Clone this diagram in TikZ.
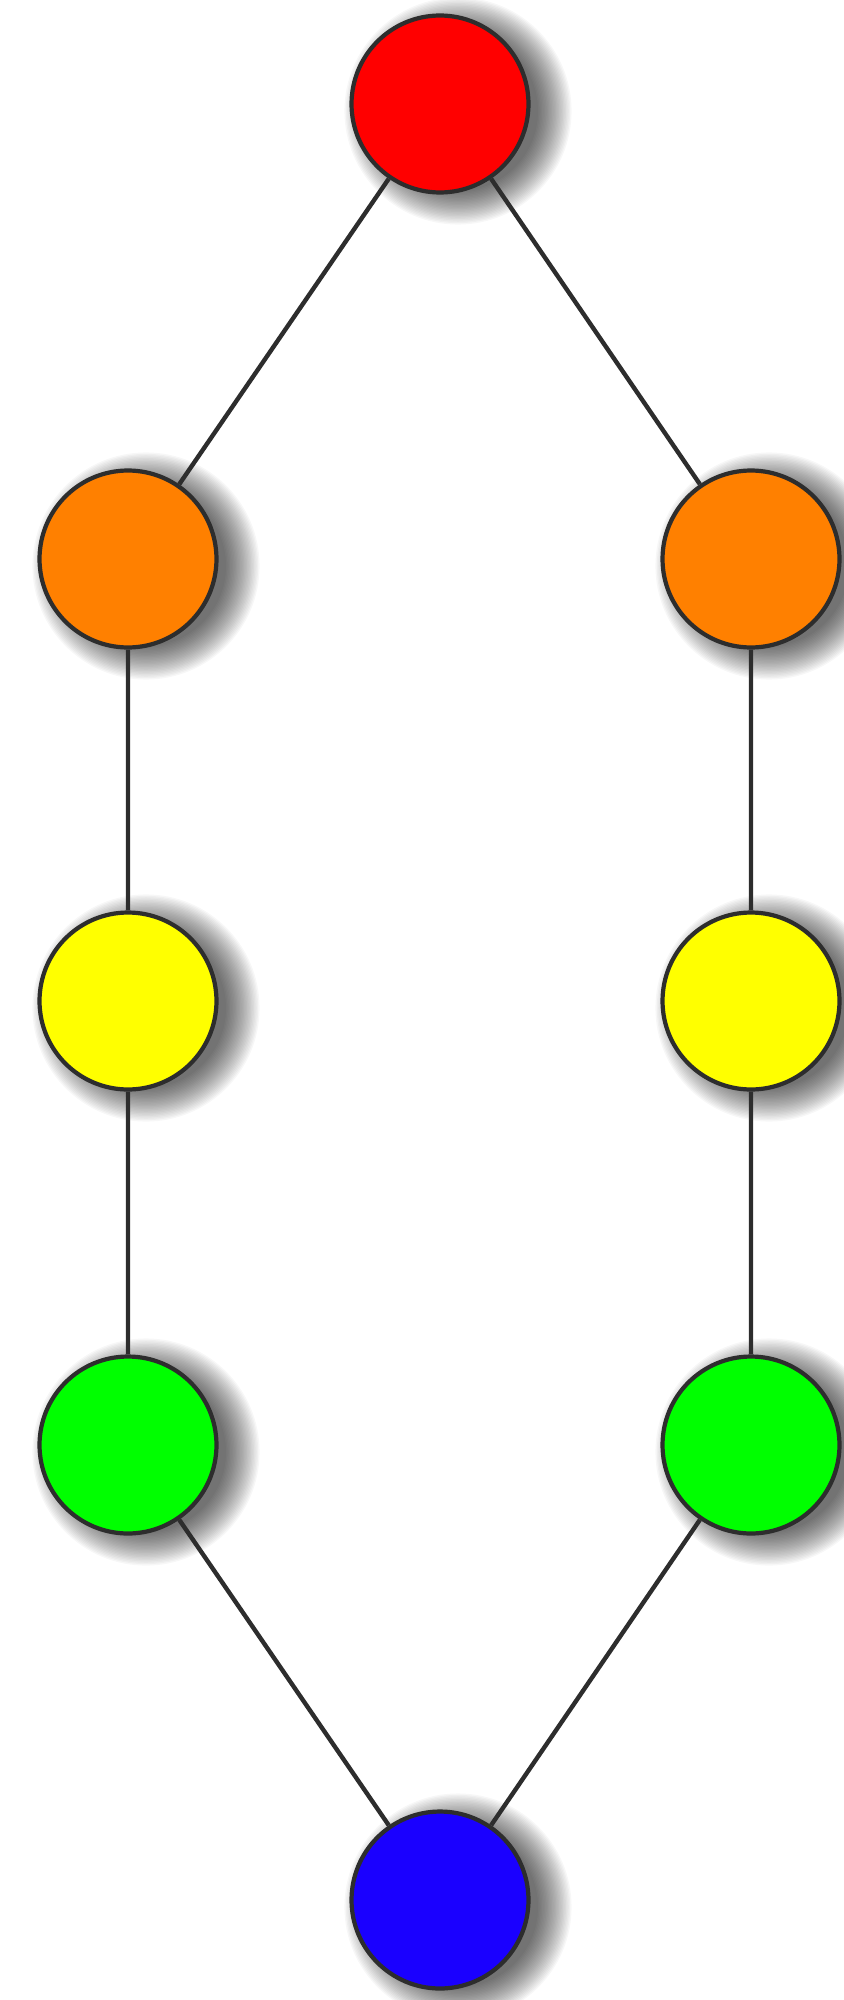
\documentclass[tikz,border=0pt]{standalone}
\usepackage{tikz}
\usetikzlibrary{backgrounds}
\definecolor{ballred}{RGB}{255,0,0}
\definecolor{ballorange}{RGB}{255,128,0}
\definecolor{ballyellow}{RGB}{255,255,0}
\definecolor{ballgreen}{RGB}{0,255,0}
\definecolor{ballblue}{RGB}{26,0,255}
\definecolor{rim}{RGB}{45,45,45}

\begin{document}
\begin{tikzpicture}[x=0.02cm,y=-0.02cm,
    ball/.style={circle,draw=rim,line width=2.4pt,inner sep=0pt,minimum size=3.54cm},
    link/.style={draw=rim,line width=2.5pt}]
    \useasboundingbox (0,0) rectangle (844,2000);

    \node[ball,fill=ballred]    (top) at (440,104) {};
    \node[ball,fill=ballorange] (o1)  at (128,559) {};
    \node[ball,fill=ballorange] (o2)  at (751,559) {};
    \node[ball,fill=ballyellow] (y1)  at (128,1001) {};
    \node[ball,fill=ballyellow] (y2)  at (751,1001) {};
    \node[ball,fill=ballgreen]  (g1)  at (128,1445) {};
    \node[ball,fill=ballgreen]  (g2)  at (751,1445) {};
    \node[ball,fill=ballblue]   (bot) at (440,1900) {};

    \begin{scope}[on background layer]
        % soft shadows
        \foreach \n in {top,o1,o2,y1,y2,g1,g2,bot}
        {
            \foreach \k in {0,...,24}
            {
                \fill[black,opacity=0.03] ([shift={(0.36cm,-0.14cm)}]\n.center) circle ({1.6cm+0.028cm*\k});
            }
        }

        \draw[link] (top) -- (o1) -- (y1) -- (g1) -- (bot);
        \draw[link] (top) -- (o2) -- (y2) -- (g2) -- (bot);
    \end{scope}
\end{tikzpicture}
\end{document}
